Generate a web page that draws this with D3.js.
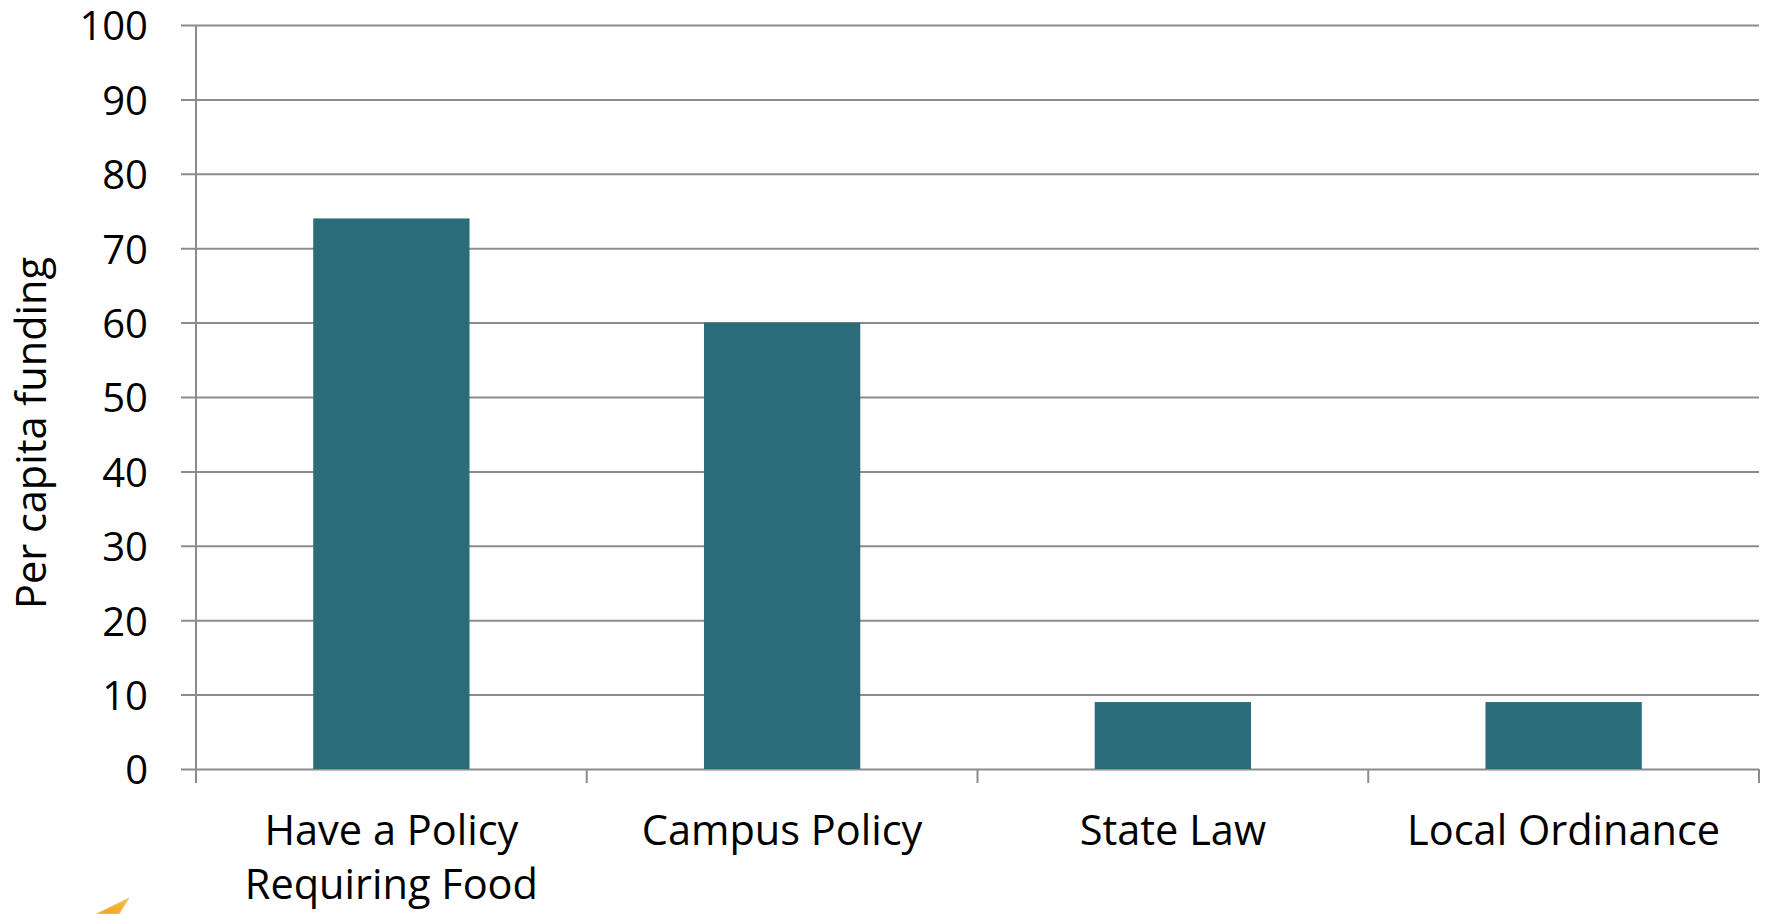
<!DOCTYPE html>
<html>
<head>
<meta charset="utf-8">
<script src="https://cdn.jsdelivr.net/npm/d3@7"></script>
<style>
  html, body { margin: 0; padding: 0; background: #ffffff; }
  svg { display: block; }
  text { font-family: "Open Sans", Lato, sans-serif; fill: #000; }
</style>
</head>
<body>
<svg id="chart" width="1768" height="914"></svg>
<script>
// ---- data ----
const categories = ["Have a Policy\nRequiring Food", "Campus Policy", "State Law", "Local Ordinance"];
const values = [74, 60, 9, 9];
const yTicks = [0, 10, 20, 30, 40, 50, 60, 70, 80, 90, 100];
const yLabel = "Per capita funding";

// ---- layout ----
const W = 1768, H = 914;
const plot = { left: 196, right: 1759, top: 25, bottom: 769 };
const tickFont = 40;
const labelFont = 41.5;
const barColor = "#2b6c7b";
const gridColor = "#8c8c8c";
const fontFam = "'Open Sans', Lato, sans-serif";

const svg = d3.select("#chart");

const x = d3.scaleBand()
  .domain(categories)
  .range([plot.left, plot.right])
  .paddingInner(0.6)
  .paddingOuter(0.3);

const y = d3.scaleLinear()
  .domain([0, 100])
  .range([plot.bottom, plot.top]);

// gridlines + y tick labels via axis
const yAxis = d3.axisLeft(y)
  .tickValues(yTicks)
  .tickSize(-(plot.right - plot.left) - 15)
  .tickPadding(33)
  .tickFormat(d3.format("d"));

const gy = svg.append("g")
  .attr("transform", `translate(${plot.right},0)`)
  .call(yAxis);
gy.select(".domain").remove();
gy.selectAll(".tick line")
  .attr("x1", 0)
  .attr("x2", -(plot.right - plot.left) - 15)
  .attr("stroke", gridColor)
  .attr("stroke-width", 2);
gy.selectAll(".tick text")
  .attr("x", -(plot.right - plot.left) - 15 - 33)
  .attr("dy", "0.37em")
  .attr("font-size", tickFont)
  .attr("font-family", fontFam)
  .attr("fill", "#000");

// vertical axis line
svg.append("line")
  .attr("x1", plot.left).attr("x2", plot.left)
  .attr("y1", y(100)).attr("y2", y(0))
  .attr("stroke", gridColor).attr("stroke-width", 2);

// bottom category boundary ticks
const step = x.step();
const boundaries = d3.range(categories.length + 1).map(i => plot.left + i * step);
svg.append("g").selectAll("line")
  .data(boundaries)
  .join("line")
  .attr("x1", d => d).attr("x2", d => d)
  .attr("y1", y(0)).attr("y2", y(0) + 14)
  .attr("stroke", gridColor).attr("stroke-width", 2);

// bars
svg.append("g").selectAll("rect")
  .data(values)
  .join("rect")
  .attr("x", (d, i) => x(categories[i]))
  .attr("width", x.bandwidth())
  .attr("y", d => y(d))
  .attr("height", d => y(0) - y(d))
  .attr("fill", barColor);

// category labels
const gx = svg.append("g");
categories.forEach(c => {
  const lines = c.split("\n");
  const t = gx.append("text")
    .attr("text-anchor", "middle")
    .attr("font-size", labelFont)
    .attr("font-family", fontFam)
    .attr("x", x(c) + x.bandwidth() / 2)
    .attr("y", 845);
  lines.forEach((ln, j) => {
    t.append("tspan")
      .attr("x", x(c) + x.bandwidth() / 2)
      .attr("dy", j === 0 ? 0 : 54)
      .text(ln);
  });
});

// y-axis title
svg.append("text")
  .attr("transform", `translate(46, ${(plot.top + plot.bottom) / 2 + 36}) rotate(-90)`)
  .attr("text-anchor", "middle")
  .attr("font-size", labelFont)
  .attr("font-family", fontFam)
  .text(yLabel);

// small orange arrow fragment at bottom-left
const grad = svg.append("defs").append("linearGradient")
  .attr("id", "og").attr("x1", "0").attr("y1", "1").attr("x2", "1").attr("y2", "0");
grad.append("stop").attr("offset", "0").attr("stop-color", "#f0a010");
grad.append("stop").attr("offset", "1").attr("stop-color", "#f7c04a");
svg.append("polygon")
  .attr("points", "96,914 129,898 119,914")
  .attr("fill", "url(#og)")
  .attr("stroke", "#e8c98a")
  .attr("stroke-width", 1);
</script>
</body>
</html>
